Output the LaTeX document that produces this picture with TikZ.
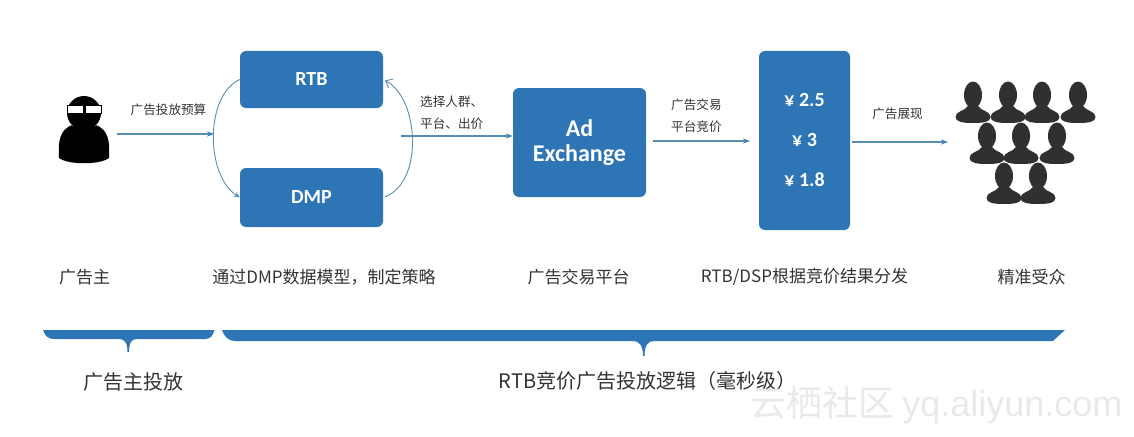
\documentclass[tikz,border=0pt]{standalone}
\usepackage{fontspec}
\setmainfont{Noto Sans CJK SC}
\newfontfamily\boxfont{Carlito}[BoldFont={Carlito Bold}]
\newfontfamily\markfont{Liberation Sans}
\usetikzlibrary{arrows.meta}
\definecolor{boxblue}{HTML}{2E75B6}
\definecolor{linkblue}{HTML}{5A8DB2}
\definecolor{headblue}{HTML}{3F7FB5}
\definecolor{labelgray}{HTML}{333333}
\definecolor{crowdgray}{HTML}{303030}
\definecolor{markgray}{HTML}{E9E9E9}
\tikzset{
  x=1pt,y=-1pt,
  bluebox/.style={fill=boxblue,rounded corners=6pt,inner sep=0pt,text=white,font=\boxfont\bfseries\fontsize{20}{24}\selectfont,align=center},
  flow/.style={draw=linkblue,line width=1.1pt,-{Stealth[length=7pt,width=5pt,color=headblue]}},
  arc link/.style={draw=linkblue,line width=0.9pt},
  small label/.style={text=labelgray,font=\fontsize{12.6}{22}\selectfont,align=left,inner sep=0pt},
  stage label/.style={text=labelgray,font=\fontsize{17}{20}\selectfont,inner sep=0pt},
  span label/.style={text=labelgray,font=\fontsize{20}{24}\selectfont,inner sep=0pt},
  crowd person/.pic={
    \fill[crowdgray] (0,13) ellipse [x radius=9,y radius=13.5];
    \fill[crowdgray] (-17.5,35) .. controls (-17.5,29) and (-8,29) .. (-5,24) -- (5,24)
      .. controls (8,29) and (17.5,29) .. (17.5,35) .. controls (17.5,40) and (10,41) .. (0,41)
      .. controls (-10,41) and (-17.5,40) .. (-17.5,35) -- cycle;
  },
}
\begin{document}
\begin{tikzpicture}
\useasboundingbox (0,0) rectangle (1134,436);
% advertiser icon
\fill[black] (59,158) .. controls (58,140) and (60,130) .. (72,125) -- (96,125)
  .. controls (108,130) and (110,140) .. (109,158) .. controls (100,165) and (68,165) .. (59,158) -- cycle;
\draw[white,line width=1pt] (72,125) .. controls (78,128) and (90,128) .. (96,125);
\fill[black] (84,113) circle [radius=17];
\draw[black,line width=1pt,fill=white] (67,105) rectangle (83,113);
\draw[black,line width=1pt,fill=white] (85,105) rectangle (101,113);
% boxes
\node[bluebox,minimum width=143pt,minimum height=57pt] (rtb) at (311.5,79.5) {RTB};
\node[bluebox,minimum width=143pt,minimum height=59pt] (dmp) at (311.5,197.5) {DMP};
\node[bluebox,minimum width=133pt,minimum height=109pt,font=\boxfont\bfseries\fontsize{24}{25}\selectfont] (adx) at (579.5,142.5) {Ad\\Exchange};
\node[bluebox,minimum width=91pt,minimum height=179pt,font=\boxfont\bfseries\fontsize{20}{40}\selectfont] (price) at (804.5,140.5) {¥ 2.5\\¥ 3\\¥ 1.8};
% connector ends
\coordinate (budgetstart) at (117,134);
\coordinate (budgetend) at (214,134);
\coordinate (bidstart) at (401,136);
\coordinate (exchangestart) at (653,141);
\coordinate (exchangeend) at (750,141);
\coordinate (showend) at (948,142);
% connectors
\draw[flow] (budgetstart) -- (budgetend);
\draw[arc link,-{Stealth[length=6pt,width=5pt]}] (rtb.west) .. controls (205,95) and (205,175) .. (dmp.west);
\draw[arc link,-{Straight Barb[length=6pt,width=10pt]},shorten >=2pt,shorten <=2pt] (dmp.east) .. controls (424,182) and (419,98) .. (rtb.east);
\draw[flow] (bidstart) -- (bidstart -| adx.west);
\draw[flow] (exchangestart) -- (exchangeend);
\draw[flow,shorten <=2pt] (price.east |- showend) -- (showend);
% arrow labels
\node[small label,anchor=center] (lbudget) at (168.5,110) {广告投放预算};
\node[small label,anchor=west] (lbid) at (420,113) {选择人群、\\平台、出价};
\node[small label,anchor=west] (lexchange) at (671,116) {广告交易\\平台竞价};
\node[small label,anchor=center] (lshow) at (897.5,114) {广告展现};
% crowd
\foreach \cx in {973,1008,1042,1078} \pic at (\cx,82) {crowd person};
\foreach \cx in {987,1021,1057} \pic at (\cx,123) {crowd person};
\foreach \cx in {1004,1038} \pic at (\cx,163) {crowd person};
% stage labels
\node[stage label] (s1) at (84.5,277) {广告主};
\node[stage label] (s2) at (324,277) {通过DMP数据模型，制定策略};
\node[stage label] (s3) at (578.5,277) {广告交易平台};
\node[stage label] (s4) at (804.5,277) {RTB/DSP根据竞价结果分发};
\node[stage label] (s5) at (1031.5,277) {精准受众};
% brackets
\fill[boxblue] (43,330) -- (214.5,330) .. controls (213,336) and (210,339) .. (205,339) -- (137,339)
  .. controls (132,339) and (129,342) .. (129,352) -- (127.5,352) .. controls (127.5,342) and (124,339) .. (119,339)
  -- (54,339) .. controls (48,339) and (45,336) .. (43,330) -- cycle;
\fill[boxblue] (222,330) -- (1065,330) -- (1053,341) -- (654,341)
  .. controls (648,341) and (644.5,345) .. (644.5,356) -- (643,356) .. controls (643,345) and (639,341) .. (633,341)
  -- (235,341) .. controls (228,341) and (224,336) .. (222,330) -- cycle;
\node[span label] (span1) at (133,382) {广告主投放};
\node[span label] (span2) at (647.5,381) {RTB竞价广告投放逻辑（毫秒级）};
% watermark
\node[text=markgray,inner sep=0pt,anchor=west] (mark) at (750,405) {\fontsize{36}{38}\selectfont 云栖社区 \markfont\fontsize{36}{38}\selectfont yq.aliyun.com};
\end{tikzpicture}
\end{document}
